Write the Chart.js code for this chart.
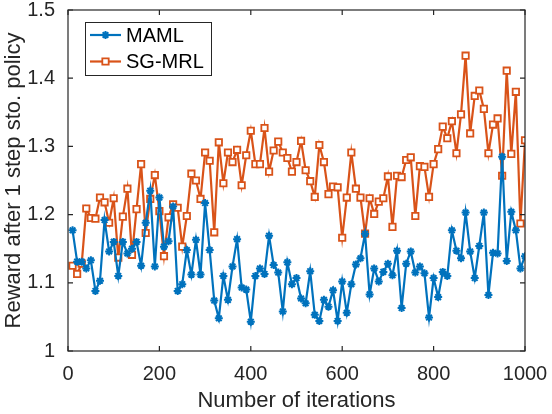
<!DOCTYPE html>
<html lang="en">
<head>
    <meta charset="UTF-8">
    <title>MAML vs SG-MRL</title>
    <script src="https://cdn.jsdelivr.net/npm/chart.js"></script>
    <style>
        body { margin: 0; padding: 0; background: #fff; }
        #chart-container { position: relative; width: 552px; height: 414px; }
    </style>
</head>
<body>
    <div id="chart-container">
        <canvas id="rewardChart"></canvas>
    </div>
    <script>
        // Values (one point every 10 iterations)
        const iterations = [10, 20, 30, 40, 50, 60, 70, 80, 90, 100,
            110, 120, 130, 140, 150, 160, 170, 180, 190, 200,
            210, 220, 230, 240, 250, 260, 270, 280, 290, 300,
            310, 320, 330, 340, 350, 360, 370, 380, 390, 400,
            410, 420, 430, 440, 450, 460, 470, 480, 490, 500,
            510, 520, 530, 540, 550, 560, 570, 580, 590, 600,
            610, 620, 630, 640, 650, 660, 670, 680, 690, 700,
            710, 720, 730, 740, 750, 760, 770, 780, 790, 800,
            810, 820, 830, 840, 850, 860, 870, 880, 890, 900,
            910, 920, 930, 940, 950, 960, 970, 980, 990, 1000];
        const mamlReward = [1.177, 1.131, 1.131, 1.121, 1.133, 1.088, 1.103, 1.192, 1.146, 1.160,
            1.110, 1.160, 1.143, 1.150, 1.160, 1.125, 1.188, 1.235, 1.124, 1.225,
            1.153, 1.161, 1.212, 1.088, 1.098, 1.148, 1.112, 1.163, 1.112, 1.217,
            1.148, 1.074, 1.048, 1.110, 1.075, 1.124, 1.164, 1.093, 1.090, 1.043,
            1.110, 1.121, 1.113, 1.169, 1.126, 1.115, 1.058, 1.130, 1.098, 1.107,
            1.077, 1.070, 1.117, 1.053, 1.044, 1.075, 1.065, 1.089, 1.044, 1.102,
            1.056, 1.098, 1.127, 1.136, 1.172, 1.083, 1.121, 1.102, 1.116, 1.128,
            1.111, 1.147, 1.063, 1.128, 1.146, 1.115, 1.124, 1.114, 1.049, 1.107,
            1.079, 1.116, 1.110, 1.177, 1.147, 1.136, 1.203, 1.146, 1.107, 1.154,
            1.203, 1.082, 1.144, 1.143, 1.285, 1.132, 1.204, 1.177, 1.121, 1.139];
        const sgmrlReward = [1.125, 1.113, 1.128, 1.209, 1.195, 1.194, 1.225, 1.218, 1.188, 1.224,
            1.137, 1.197, 1.238, 1.141, 1.208, 1.274, 1.173, 1.223, 1.258, 1.205,
            1.139, 1.196, 1.215, 1.210, 1.153, 1.198, 1.260, 1.250, 1.223, 1.291,
            1.279, 1.174, 1.306, 1.246, 1.291, 1.277, 1.295, 1.243, 1.287, 1.323,
            1.274, 1.274, 1.327, 1.263, 1.294, 1.307, 1.291, 1.283, 1.263, 1.277,
            1.308, 1.265, 1.249, 1.226, 1.302, 1.277, 1.230, 1.241, 1.240, 1.166,
            1.225, 1.291, 1.238, 1.225, 1.172, 1.224, 1.201, 1.219, 1.224, 1.256,
            1.182, 1.257, 1.255, 1.280, 1.284, 1.198, 1.271, 1.270, 1.226, 1.274,
            1.296, 1.329, 1.312, 1.337, 1.290, 1.347, 1.433, 1.319, 1.374, 1.382,
            1.355, 1.290, 1.332, 1.341, 1.257, 1.411, 1.289, 1.380, 1.187, 1.309];
        const xTickValues = [0, 200, 400, 600, 800, 1000];
        const yTickValues = [1, 1.1, 1.2, 1.3, 1.4, 1.5];
        const seriesNames = ['MAML', 'SG-MRL'];

        const axisColor = '#262626';
        const fontFamily = '"Liberation Sans", Arial, Helvetica, sans-serif';

        // MATLAB-style box: frame on all four sides with inward ticks
        const boxPlugin = {
            id: 'matlabBox',
            afterDatasetsDraw(chart) {
                const { ctx, chartArea: a, scales } = chart;
                const tl = 5;
                ctx.save();
                ctx.strokeStyle = axisColor;
                ctx.lineWidth = 1.2;
                ctx.beginPath();
                xTickValues.forEach(v => {
                    const px = scales.x.getPixelForValue(v);
                    ctx.moveTo(px, a.bottom); ctx.lineTo(px, a.bottom - tl);
                    ctx.moveTo(px, a.top); ctx.lineTo(px, a.top + tl);
                });
                yTickValues.forEach(v => {
                    const py = scales.y.getPixelForValue(v);
                    ctx.moveTo(a.left, py); ctx.lineTo(a.left + tl, py);
                    ctx.moveTo(a.right, py); ctx.lineTo(a.right - tl, py);
                });
                ctx.stroke();
                ctx.strokeRect(a.left, a.top, a.right - a.left, a.bottom - a.top);
                ctx.restore();
            },
            afterDraw(chart) {
                // legend box in the upper left, like MATLAB's 'northwest'
                const { ctx } = chart;
                const bx = 85, by = 22, bw = 126, bh = 53;
                ctx.save();
                ctx.fillStyle = '#fff';
                ctx.fillRect(bx, by, bw, bh);
                ctx.strokeStyle = axisColor;
                ctx.lineWidth = 1;
                ctx.strokeRect(bx + 0.5, by + 0.5, bw, bh);
                ctx.font = '20px ' + fontFamily;
                ctx.textBaseline = 'middle';
                ctx.textAlign = 'left';
                chart.data.datasets.forEach((ds, i) => {
                    const cy = by + 13 + i * 26.5;
                    ctx.strokeStyle = ds.borderColor;
                    ctx.lineWidth = ds.borderWidth;
                    ctx.beginPath();
                    ctx.moveTo(bx + 5, cy); ctx.lineTo(bx + 36, cy);
                    ctx.stroke();
                    ctx.fillStyle = ds.pointBackgroundColor;
                    ctx.lineWidth = ds.pointBorderWidth;
                    Chart.helpers.drawPoint(ctx, {
                        pointStyle: ds.pointStyle, radius: ds.pointRadius,
                        rotation: 0, borderWidth: ds.pointBorderWidth
                    }, bx + 20.5, cy);
                    ctx.fillStyle = '#000';
                    ctx.fillText(seriesNames[i], bx + 41, cy + 1);
                });
                ctx.restore();
            }
        };

        const ctx = document.getElementById('rewardChart').getContext('2d');
        const rewardChart = new Chart(ctx, {
            type: 'line',
            data: {
                datasets: [{
                    label: seriesNames[0],
                    data: iterations.map((it, i) => ({ x: it, y: mamlReward[i] })),
                    borderColor: '#0072BD',
                    borderWidth: 2.2,
                    pointStyle: 'star',
                    pointRadius: 4,
                    pointBorderColor: '#0072BD',
                    pointBackgroundColor: '#0072BD',
                    pointBorderWidth: 2,
                    tension: 0,
                    fill: false
                }, {
                    label: seriesNames[1],
                    data: iterations.map((it, i) => ({ x: it, y: sgmrlReward[i] })),
                    borderColor: '#D95319',
                    borderWidth: 2.2,
                    pointStyle: 'rect',
                    pointRadius: 4.5,
                    pointBorderColor: '#D95319',
                    pointBackgroundColor: '#ffffff',
                    pointBorderWidth: 1.8,
                    tension: 0,
                    fill: false
                }]
            },
            options: {
                responsive: true,
                maintainAspectRatio: false,
                animation: false,
                layout: { padding: { top: 10, right: 27, left: 0, bottom: 0 } },
                plugins: { legend: { display: false }, tooltip: { enabled: false } },
                scales: {
                    x: {
                        type: 'linear', min: 0, max: 1000,
                        grid: { display: false },
                        border: { display: false },
                        afterBuildTicks: s => { s.ticks = xTickValues.map(v => ({ value: v })); },
                        afterFit: s => { s.height = 63; s.paddingLeft = 0; s.paddingRight = 0; },
                        ticks: {
                            color: axisColor, padding: 3, maxRotation: 0,
                            font: { family: fontFamily, size: 20 },
                            callback: v => String(v)
                        },
                        title: {
                            display: true, text: 'Number of iterations', color: axisColor,
                            font: { family: fontFamily, size: 22 }, padding: { top: 0, bottom: 0 }
                        }
                    },
                    y: {
                        type: 'linear', min: 1, max: 1.5,
                        grid: { display: false },
                        border: { display: false },
                        afterBuildTicks: s => { s.ticks = yTickValues.map(v => ({ value: v })); },
                        afterFit: s => { s.width = 68; s.paddingTop = 0; s.paddingBottom = 0; },
                        ticks: {
                            color: axisColor, padding: 5,
                            font: { family: fontFamily, size: 20 },
                            callback: v => String(+v.toFixed(1))
                        },
                        title: {
                            display: true, text: 'Reward after 1 step sto. policy', color: axisColor,
                            font: { family: fontFamily, size: 22 }, padding: { top: 1, bottom: 0 }
                        }
                    }
                }
            },
            plugins: [boxPlugin]
        });
    </script>
</body>
</html>
